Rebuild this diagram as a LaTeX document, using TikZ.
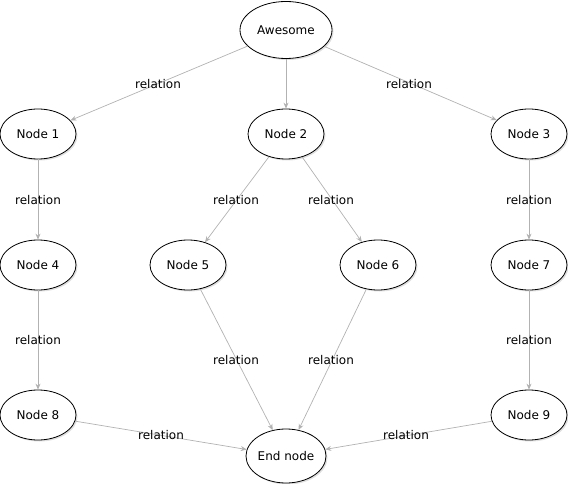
\documentclass[tikz,border=0pt]{standalone}
\usepackage{fontspec}
\setmainfont{DejaVu Sans}
\usetikzlibrary{shapes.geometric,arrows.meta,shadows}
\begin{document}
\begin{tikzpicture}[x=1pt,y=-1pt,
  nd/.style={ellipse,draw=black,fill=white,line width=0.8pt,inner sep=0pt,
    minimum width=76pt,minimum height=50pt,font=\fontsize{12}{14}\selectfont,
    drop shadow={shadow xshift=1.5pt,shadow yshift=-1.5pt,opacity=0.25,fill=gray}},
  rel/.style={draw=black!30,line width=0.7pt,-{Stealth[length=6pt,width=5pt]}},
  lbl/.style={font=\fontsize{12}{14}\selectfont,inner sep=1pt}]
\useasboundingbox (0,0) rectangle (568,484);
\node[nd,minimum width=92pt,minimum height=57pt] (aw) at (286,30) {Awesome};
\node[nd] (n1) at (38,134) {Node 1};
\node[nd] (n2) at (286,134) {Node 2};
\node[nd] (n3) at (529,134) {Node 3};
\node[nd] (n4) at (38,265) {Node 4};
\node[nd] (n5) at (188,265) {Node 5};
\node[nd] (n6) at (378,265) {Node 6};
\node[nd] (n7) at (529,265) {Node 7};
\node[nd] (n8) at (38,415) {Node 8};
\node[nd] (n9) at (529,415) {Node 9};
\node[nd,minimum height=54pt] (en) at (286,456) {End node};
\begin{scope}[on background layer/.style={}]
\draw[rel] (aw) -- (n1);
\draw[rel] (aw) -- (n2);
\draw[rel] (aw) -- (n3);
\draw[rel] (n1) -- (n4);
\draw[rel] (n2) -- (n5);
\draw[rel] (n2) -- (n6);
\draw[rel] (n3) -- (n7);
\draw[rel] (n4) -- (n8);
\draw[rel] (n5) -- (en);
\draw[rel] (n6) -- (en);
\draw[rel] (n7) -- (n9);
\draw[rel] (n8) -- (en);
\draw[rel] (n9) -- (en);
\end{scope}
\node[lbl] (l1) at (158,84) {relation};
\node[lbl] (l2) at (409,84) {relation};
\node[lbl] (l3) at (38,200) {relation};
\node[lbl] (l4) at (236,200) {relation};
\node[lbl] (l5) at (331,200) {relation};
\node[lbl] (l6) at (529,200) {relation};
\node[lbl] (l7) at (38,340) {relation};
\node[lbl] (l8) at (236,360) {relation};
\node[lbl] (l9) at (331,360) {relation};
\node[lbl] (l10) at (529,340) {relation};
\node[lbl] (l11) at (161,435) {relation};
\node[lbl] (l12) at (406,435) {relation};
\end{tikzpicture}
\end{document}
